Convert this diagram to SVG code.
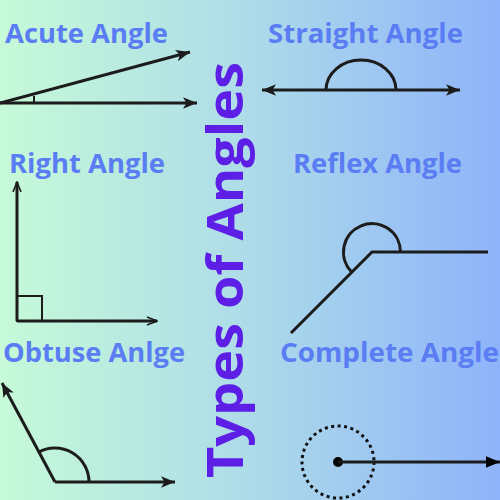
<svg xmlns="http://www.w3.org/2000/svg" width="500" height="500" viewBox="0 0 500 500">
<defs>
<linearGradient id="bg" x1="0" y1="0" x2="1" y2="0">
<stop offset="0" stop-color="#c6fad8"/>
<stop offset="0.5" stop-color="#addbe9"/>
<stop offset="1" stop-color="#8fb3fa"/>
</linearGradient>
<marker id="barb" viewBox="0 0 12 10" markerWidth="14" markerHeight="12" refX="12" refY="5" orient="auto-start-reverse" markerUnits="userSpaceOnUse">
<path d="M0,0 L12,5 L0,10 L3,5 z" fill="#1c1c1c"/>
</marker>
<marker id="tri" viewBox="0 0 12 10" markerWidth="14" markerHeight="14" refX="12" refY="5" orient="auto" markerUnits="userSpaceOnUse">
<path d="M0,0 L12,5 L0,10 z" fill="#000"/>
</marker>
<marker id="chev" viewBox="0 0 12 10" markerWidth="12" markerHeight="10" refX="11" refY="5" orient="auto" markerUnits="userSpaceOnUse">
<path d="M1,1 L11,5 L1,9" fill="none" stroke="#1c1c1c" stroke-width="1.6"/>
</marker>
</defs>
<style>
.lbl{font-family:"Open Sans","Liberation Sans",sans-serif;font-weight:bold;font-size:26px;fill:#5b7df3}
.title{font-family:"Open Sans","Liberation Sans",sans-serif;font-weight:bold;font-size:50px;fill:#5d1ee6}
.ln{stroke:#1c1c1c;stroke-width:3;fill:none}
.th{stroke:#1c1c1c;stroke-width:2;fill:none}
</style>
<rect x="0" y="0" width="500" height="500" fill="url(#bg)"/>

<g id="title">
<text class="title" transform="translate(243,478) rotate(-90)" x="0" y="0" textLength="416" lengthAdjust="spacingAndGlyphs">Types of Angles</text>
</g>

<g id="acute">
<text class="lbl" x="5" y="43" textLength="163" lengthAdjust="spacingAndGlyphs">Acute Angle</text>
<line class="ln" x1="0" y1="103" x2="190" y2="52" marker-end="url(#barb)"/>
<line class="ln" x1="0" y1="103" x2="197" y2="103" marker-end="url(#barb)"/>
<line class="th" x1="34" y1="96" x2="34" y2="103"/>
</g>

<g id="straight">
<text class="lbl" x="268" y="43" textLength="195" lengthAdjust="spacingAndGlyphs">Straight Angle</text>
<line class="ln" x1="262" y1="90" x2="460" y2="90" marker-start="url(#barb)" marker-end="url(#barb)"/>
<path class="ln" d="M326,90 A35,30 0 0 1 396,90"/>
</g>

<g id="right">
<text class="lbl" x="9" y="173" textLength="156" lengthAdjust="spacingAndGlyphs">Right Angle</text>
<line class="ln" x1="17" y1="321" x2="17" y2="182" marker-end="url(#chev)"/>
<line class="ln" x1="17" y1="321" x2="157" y2="321" marker-end="url(#chev)"/>
<rect class="th" x="17" y="296" width="25" height="25"/>
</g>

<g id="reflex">
<text class="lbl" x="293" y="173" textLength="169" lengthAdjust="spacingAndGlyphs">Reflex Angle</text>
<polyline class="ln" points="291,333 372,252 488,252"/>
<path class="ln" d="M400.5,252 A28.5,28.5 0 1 0 351.8,272.2"/>
</g>

<g id="obtuse">
<text class="lbl" x="3" y="362" textLength="182" lengthAdjust="spacingAndGlyphs">Obtuse Anlge</text>
<line class="ln" x1="55" y1="482" x2="2" y2="383" marker-end="url(#barb)"/>
<line class="ln" x1="55" y1="482" x2="175" y2="482" marker-end="url(#barb)"/>
<path class="ln" d="M89,482 A34,34 0 0 0 38.6,452.2"/>
</g>

<g id="complete">
<text class="lbl" x="280" y="362" textLength="219" lengthAdjust="spacingAndGlyphs">Complete Angle</text>
<circle cx="338" cy="462" r="36" fill="none" stroke="#111" stroke-width="3" stroke-dasharray="3 3.5"/>
<circle cx="338" cy="462" r="5" fill="#000"/>
<line class="ln" x1="338" y1="462" x2="500" y2="462" marker-end="url(#tri)"/>
</g>
</svg>
